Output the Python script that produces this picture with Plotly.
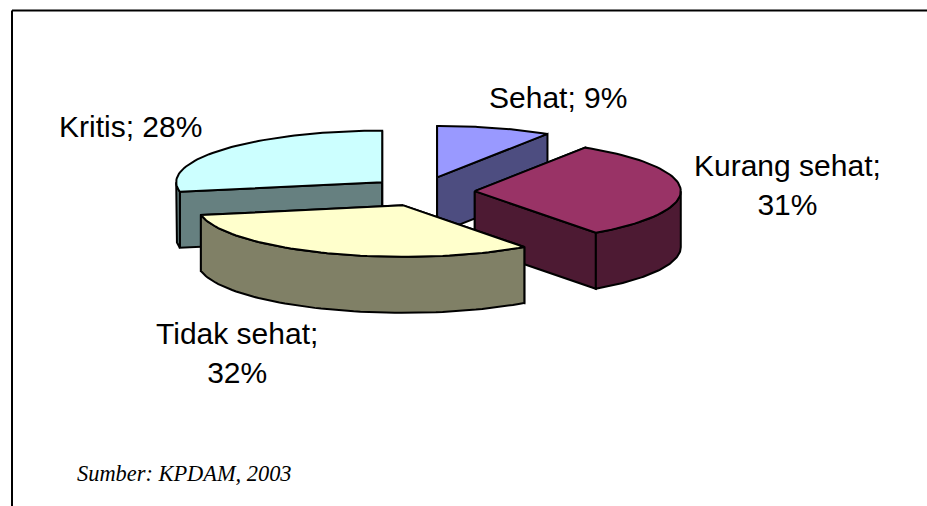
import math
import plotly.graph_objects as go

categories = ["Sehat", "Kurang sehat", "Tidak sehat", "Kritis"]
values = [9, 31, 32, 28]
top_colors = ["#9999FF", "#993366", "#FFFFCC", "#CCFFFF"]
side_colors = ["#4D4D80", "#4D1A33", "#808066", "#668080"]
label_texts = ["Sehat; 9%", "Kurang sehat;<br>31%", "Tidak sehat;<br>32%", "Kritis; 28%"]
label_x = [558, 787, 237, 130]
label_y = [97, 185, 353, 126]
draw_order = [0, 3, 1, 2]

CX, CY = 422.5, 191.6
RX, RY = 206.0, 51.5
EXPLODE_X, EXPLODE_Y = 52.3, 14.8
DEPTH = 56.0
LINE = 2.0


def pt(ax, ay, ang, dy=0.0):
    return ax + RX * math.sin(ang), ay - RY * math.cos(ang) + dy


def arc(ax, ay, a0, a1, dy=0.0, n=60):
    return [pt(ax, ay, a0 + (a1 - a0) * i / n, dy) for i in range(n + 1)]


fig = go.Figure()


def poly(points, fill):
    xs = [p[0] for p in points] + [points[0][0]]
    ys = [p[1] for p in points] + [points[0][1]]
    fig.add_trace(go.Scatter(x=xs, y=ys, mode="lines", fill="toself", fillcolor=fill,
                             line=dict(color="black", width=LINE), hoverinfo="skip",
                             showlegend=False))


total = sum(values)
starts = []
acc = 0.0
for v in values:
    starts.append(acc)
    acc += v
for i in draw_order:
    a0 = starts[i] / total * 2 * math.pi
    a1 = (starts[i] + values[i]) / total * 2 * math.pi
    mid = (a0 + a1) / 2
    ax = CX + EXPLODE_X * math.sin(mid)
    ay = CY - EXPLODE_Y * math.cos(mid)
    for ang in (a0, a1):
        p = pt(ax, ay, ang)
        poly([(ax, ay), p, (p[0], p[1] + DEPTH), (ax, ay + DEPTH)], side_colors[i])
    f0, f1 = max(a0, math.pi / 2), min(a1, 3 * math.pi / 2)
    if f1 > f0:
        poly(arc(ax, ay, f0, f1) + arc(ax, ay, f1, f0, DEPTH), side_colors[i])
    poly([(ax, ay)] + arc(ax, ay, a0, a1), top_colors[i])

# frame, open at the right and bottom of the picture
fig.add_shape(type="line", x0=12, x1=927, y0=10.5, y1=10.5, line=dict(color="black", width=2))
fig.add_shape(type="line", x0=12, x1=12, y0=10.5, y1=506, line=dict(color="black", width=2))

for t, x, y in zip(label_texts, label_x, label_y):
    fig.add_annotation(x=x, y=y, text=t, showarrow=False, xanchor="center", yanchor="middle",
                       font=dict(family="Liberation Sans", size=30, color="black"))
fig.add_annotation(x=75, y=473, text="<i>Sumber: KPDAM, 2003</i>", showarrow=False,
                   xanchor="left", yanchor="middle",
                   font=dict(family="Liberation Serif", size=22.4, color="black"))

fig.update_layout(width=927, height=506, margin=dict(l=0, r=0, t=0, b=0),
                  paper_bgcolor="white", plot_bgcolor="white", showlegend=False,
                  xaxis=dict(range=[0, 927], visible=False, fixedrange=True),
                  yaxis=dict(range=[506, 0], visible=False, fixedrange=True))
fig.write_html("out.html", config={"displayModeBar": False},
               post_script="document.body.style.margin='0';document.body.style.overflow='hidden';")
